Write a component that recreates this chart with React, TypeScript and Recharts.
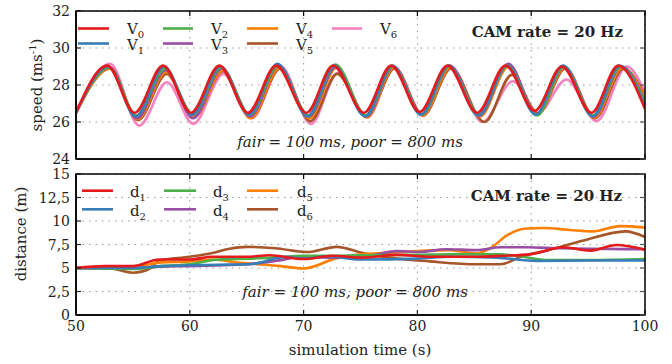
import React from 'react';
import { LineChart, Line, XAxis, YAxis, CartesianGrid } from 'recharts';

const COLORS = ['#e41a1c', '#377eb8', '#4daf4a', '#984ea3', '#ff7f00', '#a65628', '#f781bf'];
const FONT = '"DejaVu Serif", serif';

const xTicks = [50, 60, 70, 80, 90, 100];
const speedTicks = [24, 26, 28, 30, 32];
const distTicks = [0, 2.5, 5, 7.5, 10, 12.5, 15];

// speed (m/s): peak / trough times for each vehicle
const v0T = [50, 52.75, 55.15, 57.65, 60.1, 62.6, 65.1, 67.6, 70.25, 72.6, 75.3, 77.7, 80.2, 82.65, 85.25, 87.75, 90.3, 92.7, 95.3, 97.65, 100];
const v0 = [26.5, 29.05, 26.5, 29.05, 26.5, 29.05, 26.5, 29.05, 26.5, 29.05, 26.5, 29.05, 26.55, 29.05, 26.5, 29.05, 26.6, 29.0, 26.5, 29.05, 26.7];
const v1T = [50, 52.85, 55.25, 57.75, 60.2, 62.7, 65.2, 67.7, 70.35, 72.7, 75.4, 77.8, 80.3, 82.75, 85.35, 87.85, 90.4, 92.8, 95.4, 97.75, 100];
const v1 = [26.5, 29.0, 26.3, 29.0, 26.4, 29.0, 26.4, 29.15, 26.3, 29.05, 26.3, 29.05, 26.4, 29.05, 26.35, 29.05, 26.4, 29.05, 26.3, 29.05, 26.85];
const v2T = [50, 52.9, 55.3, 57.8, 60.25, 62.75, 65.25, 67.75, 70.4, 72.8, 75.45, 77.85, 80.35, 82.8, 85.4, 87.9, 90.5, 92.85, 95.45, 97.85, 100];
const v2 = [26.5, 28.95, 26.35, 28.9, 26.4, 28.95, 26.4, 29.05, 26.35, 29.1, 26.35, 29.0, 26.4, 29.0, 26.4, 29.05, 26.35, 29.0, 26.35, 29.0, 27.0];
const v3T = [50, 52.95, 55.35, 57.85, 60.3, 62.8, 65.3, 67.8, 70.45, 72.85, 75.5, 77.9, 80.4, 82.85, 85.45, 88.0, 90.5, 92.9, 95.5, 97.9, 100];
const v3 = [26.5, 28.95, 26.2, 28.8, 26.2, 28.9, 26.3, 29.05, 26.3, 29.0, 26.3, 29.0, 26.4, 29.05, 26.35, 29.15, 26.4, 29.0, 26.3, 29.0, 27.1];
const v4T = [50, 53.0, 55.4, 57.9, 60.35, 62.9, 65.35, 67.9, 70.5, 72.9, 75.55, 77.95, 80.45, 82.9, 85.5, 88.0, 90.55, 92.95, 95.55, 98.0, 100];
const v4 = [26.5, 28.9, 26.15, 28.7, 26.25, 28.8, 26.2, 28.95, 26.2, 28.95, 26.25, 28.95, 26.35, 28.95, 26.3, 29.0, 26.4, 28.95, 26.25, 28.95, 27.3];
const v5T = [50, 53.0, 55.45, 57.95, 60.4, 62.9, 65.4, 67.95, 70.6, 72.95, 75.55, 78.0, 80.5, 82.95, 85.9, 88.3, 90.6, 93.0, 95.6, 98.1, 100];
const v5 = [26.5, 28.9, 26.1, 28.6, 26.3, 28.75, 26.25, 28.9, 26.05, 28.6, 26.3, 28.9, 26.35, 28.9, 26.0, 28.55, 26.45, 28.9, 26.2, 28.9, 27.4];
const v6T = [50, 53.0, 55.55, 58.0, 60.3, 62.95, 65.45, 68.0, 70.65, 73.0, 75.6, 78.0, 80.5, 83.0, 85.7, 88.4, 90.6, 93.1, 95.75, 98.4, 100];
const v6 = [26.5, 29.15, 25.8, 28.15, 25.9, 28.6, 26.2, 29.0, 25.9, 28.65, 26.25, 28.95, 26.35, 28.95, 26.0, 28.2, 26.5, 28.3, 26.05, 29.0, 27.6];

// inter-vehicle distance (m)
const d1T = [50, 52.5, 55, 57.3, 60, 62, 65, 67, 70, 72.5, 75.2, 78.2, 81.1, 85.2, 87.5, 89.9, 92.8, 95.2, 97.5, 100];
const d1 = [5.0, 5.2, 5.2, 5.9, 5.9, 6.2, 6.2, 6.35, 5.95, 6.3, 6.1, 6.4, 6.2, 6.2, 6.3, 6.45, 7.2, 6.85, 7.45, 6.95];
const d2T = [50, 55, 57.5, 60, 62.5, 65.3, 68.5, 70, 72.2, 75, 80, 82.9, 87, 90.5, 95, 100];
const d2 = [5.0, 5.0, 5.2, 5.3, 5.35, 5.4, 6.2, 6.0, 6.25, 5.9, 6.0, 6.2, 6.1, 5.75, 5.8, 5.8];
const d3T = [50, 55, 57.5, 60, 62.5, 65, 67.5, 70, 72.5, 75, 80, 83, 87.3, 88.7, 91.5, 95, 100];
const d3 = [5.0, 4.9, 5.2, 5.4, 5.9, 6.0, 6.1, 6.3, 6.3, 6.35, 6.4, 6.45, 6.45, 6.3, 5.85, 5.85, 5.95];
const d4T = [50, 55, 57.5, 60, 63, 65, 67.5, 70, 72.5, 75, 78.2, 80.2, 82.5, 85.2, 87.3, 89.6, 92.5, 95, 100];
const d4 = [5.0, 5.0, 5.15, 5.2, 5.3, 5.4, 5.75, 6.2, 6.1, 6.15, 6.8, 6.7, 7.0, 6.9, 7.2, 7.2, 7.1, 7.05, 7.0];
const d5T = [50, 53, 55, 57.5, 60, 62, 64, 65.5, 68, 70, 72.9, 75.5, 78, 80, 82.9, 85.2, 86.4, 87.9, 89.6, 91, 93.4, 95.4, 97.8, 100];
const d5 = [5.0, 5.0, 5.1, 5.6, 5.7, 5.9, 5.6, 5.45, 5.2, 4.95, 6.05, 6.5, 6.65, 6.8, 6.9, 6.55, 7.1, 8.5, 9.2, 9.25, 9.05, 8.9, 9.45, 9.3];
const d6T = [50, 53, 55, 56.5, 57.3, 60, 62, 63.5, 65, 67.5, 70.3, 72.9, 75.2, 77.5, 81.1, 85.2, 87.3, 89.2, 91.5, 94.5, 98.3, 100];
const d6 = [5.0, 4.95, 4.5, 4.95, 5.8, 6.2, 6.6, 7.05, 7.25, 7.1, 6.7, 7.25, 6.6, 6.1, 5.7, 5.4, 5.4, 6.25, 6.9, 7.9, 8.9, 8.3];

const pts = (ts: number[], vs: number[]) => ts.map((t, i) => ({ t, v: vs[i] }));

const speedSeries = [pts(v0T, v0), pts(v1T, v1), pts(v2T, v2), pts(v3T, v3), pts(v4T, v4), pts(v5T, v5), pts(v6T, v6)];
const distSeries = [pts(d1T, d1), pts(d2T, d2), pts(d3T, d3), pts(d4T, d4), pts(d5T, d5), pts(d6T, d6)];

// plot boxes (page px) shared by the charts and the frame overlay
const LEFT = 76;
const RIGHT = 645;
const TOP1 = 11;
const BOT1 = 159;
const TOP2 = 174;
const BOT2 = 315;
const CHART2_Y = 150;

const TICK = 5;
const comma = (v: number) => String(v).replace('.', ',');

// inward ticks, labels outside
const leftTick = (fmt: (v: number) => string) => (p: any) => (
  <g>
    <line x1={p.x + 6} x2={p.x + 6 + TICK} y1={p.y} y2={p.y} stroke="#222" strokeWidth={1.2} />
    <text x={p.x} y={p.y} dy="0.36em" textAnchor="end" fontFamily={FONT} fontSize={14} fill="#222">
      {fmt(p.payload.value)}
    </text>
  </g>
);
const bottomTick = (labels: boolean) => (p: any) => (
  <g>
    <line x1={p.x} x2={p.x} y1={p.y - 6} y2={p.y - 6 - TICK} stroke="#222" strokeWidth={1.2} />
    {labels && (
      <text x={p.x} y={p.y} dy="0.71em" textAnchor="middle" fontFamily={FONT} fontSize={14} fill="#222">
        {p.payload.value}
      </text>
    )}
  </g>
);

const axisLine = { stroke: '#000', strokeWidth: 1.5 };

const Panel: React.FC<{
  height: number;
  top: number;
  bottomH: number;
  domain: [number, number];
  yTicks: number[];
  fmt: (v: number) => string;
  series: { t: number; v: number }[][];
  labels: boolean;
}> = ({ height, top, bottomH, domain, yTicks, fmt, series, labels }) => (
  <LineChart width={672} height={height} margin={{ top, right: 672 - RIGHT, left: 0, bottom: 0 }}>
    <CartesianGrid stroke="#999" strokeDasharray="1.5 5" strokeWidth={1} />
    <XAxis dataKey="t" type="number" domain={[50, 100]} ticks={xTicks} interval={0} height={bottomH}
      tickSize={0} tickMargin={6} axisLine={axisLine} tick={bottomTick(labels)} allowDataOverflow />
    <YAxis type="number" domain={domain} ticks={yTicks} interval={0} width={LEFT} tickSize={0} tickMargin={6}
      axisLine={axisLine} tick={leftTick(fmt)} allowDataOverflow />
    {series.map((d, i) => ({ d, i })).reverse().map(({ d, i }) => (
      <Line key={i} data={d} dataKey="v" type="monotone" stroke={COLORS[i]} strokeWidth={2.6}
        dot={false} isAnimationActive={false} />
    ))}
  </LineChart>
);

// box around a panel plus the inward ticks on its top and right edges
const Frame: React.FC<{ y0: number; y1: number; domain: [number, number]; yTicks: number[] }> = ({
  y0, y1, domain, yTicks,
}) => {
  const sx = (t: number) => LEFT + ((t - 50) / 50) * (RIGHT - LEFT);
  const sy = (v: number) => y1 - ((v - domain[0]) / (domain[1] - domain[0])) * (y1 - y0);
  return (
    <g fill="none">
      <rect x={LEFT} y={y0} width={RIGHT - LEFT} height={y1 - y0} fill="none" stroke="#000" strokeWidth={1.5} />
      {xTicks.map((t) => (
        <path key={'x' + t} d={`M${sx(t)},${y0}V${y0 + TICK}`} stroke="#000" strokeWidth={1.2} />
      ))}
      {yTicks.map((v) => (
        <path key={'y' + v} d={`M${RIGHT - TICK},${sy(v)}H${RIGHT}`} stroke="#555" strokeWidth={1.2} />
      ))}
    </g>
  );
};

const sub = (base: string, s: string) => (
  <>
    {base}
    <tspan fontSize={10} dy={4}>{s}</tspan>
  </>
);

const topLegend = [
  { x1: 78, x2: 109, y: 28.5, tx: 127, ty: 33.5, b: 'V', s: '0', c: 0 },
  { x1: 78, x2: 109, y: 43.5, tx: 127, ty: 50, b: 'V', s: '1', c: 1 },
  { x1: 163, x2: 193, y: 28.5, tx: 211, ty: 33.5, b: 'V', s: '2', c: 2 },
  { x1: 163, x2: 193, y: 43.5, tx: 211, ty: 50, b: 'V', s: '3', c: 3 },
  { x1: 247, x2: 278, y: 28.5, tx: 296, ty: 33.5, b: 'V', s: '4', c: 4 },
  { x1: 247, x2: 278, y: 43.5, tx: 296, ty: 50, b: 'V', s: '5', c: 5 },
  { x1: 332, x2: 362, y: 28.5, tx: 380, ty: 33.5, b: 'V', s: '6', c: 6 },
];
const bottomLegend = [
  { x1: 82, x2: 113, y: 190.7, tx: 130, ty: 197, b: 'd', s: '1', c: 0 },
  { x1: 82, x2: 113, y: 209.3, tx: 130, ty: 216, b: 'd', s: '2', c: 1 },
  { x1: 164, x2: 196, y: 190.7, tx: 213, ty: 197, b: 'd', s: '3', c: 2 },
  { x1: 164, x2: 196, y: 209.3, tx: 213, ty: 216, b: 'd', s: '4', c: 3 },
  { x1: 247, x2: 278, y: 190.7, tx: 297, ty: 197, b: 'd', s: '5', c: 4 },
  { x1: 247, x2: 278, y: 209.3, tx: 297, ty: 216, b: 'd', s: '6', c: 5 },
];

export default function App() {
  return (
    <div style={{ position: 'absolute', left: 0, top: 0, width: 672, height: 364, background: '#fff' }}>
      <div style={{ position: 'absolute', left: 0, top: 0 }}>
        <Panel height={BOT1 + 11} top={TOP1} bottomH={11} domain={[24, 32]} yTicks={speedTicks}
          fmt={String} series={speedSeries} labels={false} />
      </div>
      <div style={{ position: 'absolute', left: 0, top: CHART2_Y }}>
        <Panel height={364 - CHART2_Y} top={TOP2 - CHART2_Y} bottomH={364 - BOT2} domain={[0, 15]}
          yTicks={distTicks} fmt={comma} series={distSeries} labels />
      </div>
      <svg width={672} height={364} style={{ position: 'absolute', left: 0, top: 0, pointerEvents: 'none' }}
        fontFamily={FONT}>
        {[...topLegend, ...bottomLegend].map((l, i) => (
          <g key={i}>
            <line x1={l.x1} x2={l.x2} y1={l.y} y2={l.y} stroke={COLORS[l.c]} strokeWidth={2.6} />
            <text x={l.tx} y={l.ty} fontSize={15} fill="#222">{sub(l.b, l.s)}</text>
          </g>
        ))}
        <g fill="#222">
          <text x={623} y={37} textAnchor="end" fontSize={15} fontWeight="bold">CAM rate = 20 Hz</text>
          <text x={622} y={201} textAnchor="end" fontSize={15} fontWeight="bold">CAM rate = 20 Hz</text>
          <text x={350} y={147} textAnchor="middle" fontSize={15} fontStyle="italic">fair = 100 ms, poor = 800 ms</text>
          <text x={355} y={296.5} textAnchor="middle" fontSize={15} fontStyle="italic">fair = 100 ms, poor = 800 ms</text>
          <text transform="translate(42,85) rotate(-90)" textAnchor="middle" fontSize={15}>
            speed (ms<tspan fontSize={10} dy={-6}>-1</tspan><tspan dy={6}>)</tspan>
          </text>
          <text transform="translate(26,234) rotate(-90)" textAnchor="middle" fontSize={15}>distance (m)</text>
          <text x={360} y={355} textAnchor="middle" fontSize={15}>simulation time (s)</text>
        </g>
        <Frame y0={TOP1} y1={BOT1} domain={[24, 32]} yTicks={speedTicks} />
        <Frame y0={TOP2} y1={BOT2} domain={[0, 15]} yTicks={distTicks} />
      </svg>
    </div>
  );
}
